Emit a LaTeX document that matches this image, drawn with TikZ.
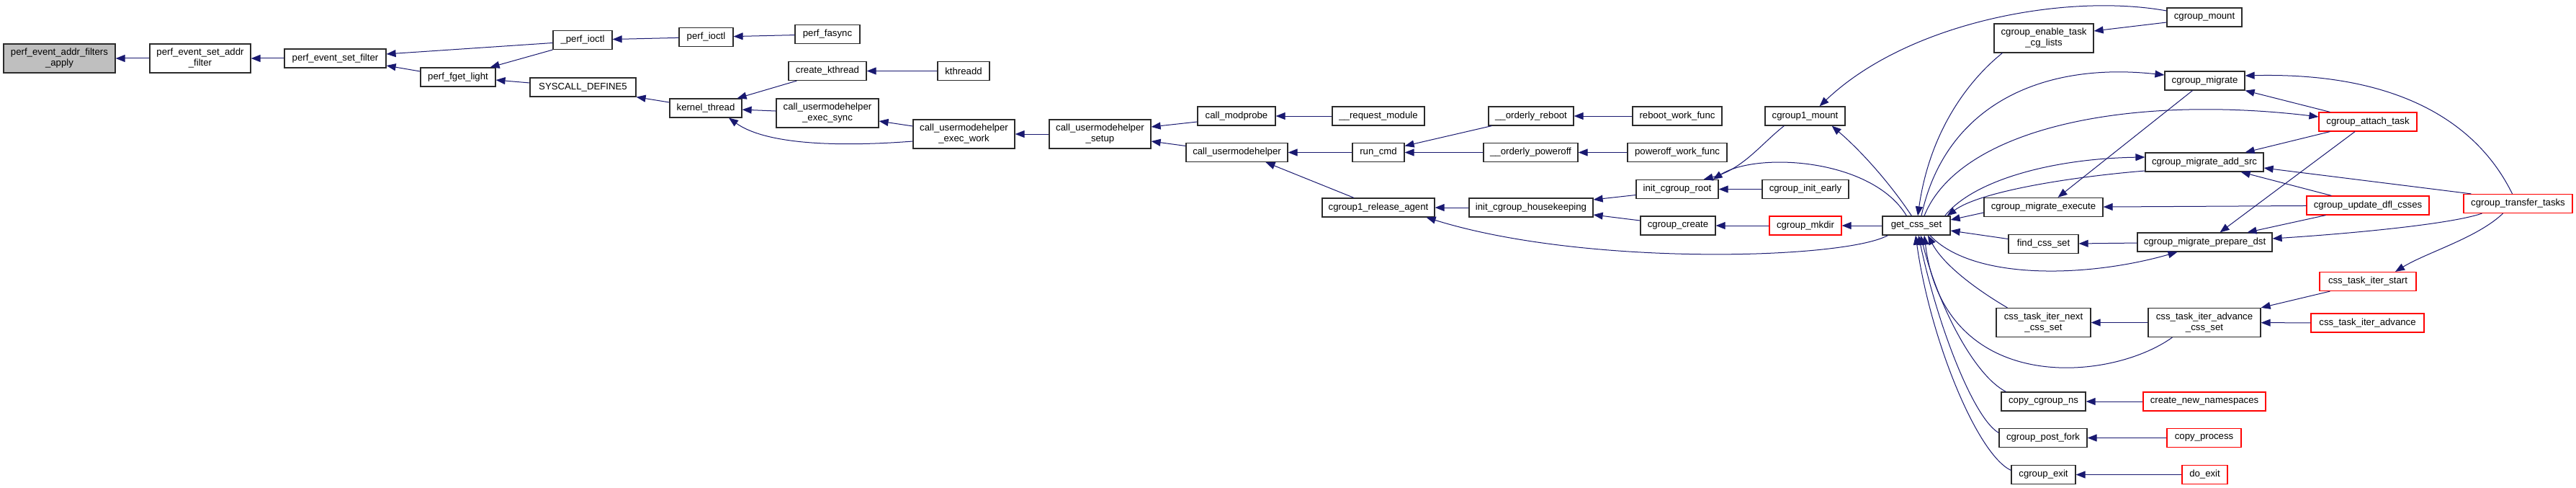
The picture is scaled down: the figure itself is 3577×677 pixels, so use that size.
\documentclass[tikz,border=0pt]{standalone}
\usepackage{fontspec}
\setmainfont{Liberation Sans}
\usetikzlibrary{arrows.meta,calc}
\definecolor{navyc}{HTML}{191970}
\definecolor{grayfill}{HTML}{BFBFBF}
\definecolor{boxline}{HTML}{2B2B2B}
\newcommand\fsz{\fontsize{13.2}{15}\selectfont}
\newcommand\nb[7]{\node[#6, minimum width=#4pt, minimum height=#5pt] (#1) at (#2,#3) {#7};}
\tikzset{
 box/.style={draw=boxline, fill=white, line width=1.2pt, inner sep=0pt, font=\fsz, align=center, text=black},
 rbox/.style={box, draw=red},
 gbox/.style={box, fill=grayfill},
 edge/.style={draw=navyc, line width=1pt, -{Triangle[length=13pt,width=10pt]}}
}
\begin{document}
\begin{tikzpicture}[x=1pt,y=-1pt]
\fill[white] (0,0) rectangle (3577,677);
\useasboundingbox (0,0) rectangle (3577,677);
\nb{apply}{82.5}{81}{155}{40}{gbox}{perf\_event\_addr\_filters\\\_apply}
\nb{setaddr}{278}{81}{140}{40}{box}{perf\_event\_set\_addr\\\_filter}
\nb{setfilter}{465.5}{81}{141}{26}{box}{perf\_event\_set\_filter}
\nb{fget}{636}{107}{104}{26}{box}{perf\_fget\_light}
\nb{pioctlu}{809}{55.5}{82}{26}{box}{\_perf\_ioctl}
\nb{sysdef}{809.5}{121}{147}{26}{box}{SYSCALL\_DEFINE5}
\nb{pioctl}{980.5}{51.5}{75}{26}{box}{perf\_ioctl}
\nb{pfasync}{1149}{47.5}{90}{26}{box}{perf\_fasync}
\nb{ckt}{1149}{98.5}{108}{26}{box}{create\_kthread}
\nb{kthreadd}{1338}{98.5}{72}{26}{box}{kthreadd}
\nb{kt}{980}{150}{100}{26}{box}{kernel\_thread}
\nb{exsync}{1149}{157}{142}{40}{box}{call\_usermodehelper\\\_exec\_sync}
\nb{exwork}{1338.5}{186}{141}{40}{box}{call\_usermodehelper\\\_exec\_work}
\nb{setup}{1527.5}{186}{141}{40}{box}{call\_usermodehelper\\\_setup}
\nb{modprobe}{1717}{161}{108}{26}{box}{call\_modprobe}
\nb{cuh}{1717.5}{211.5}{141}{26}{box}{call\_usermodehelper}
\nb{reqmod}{1914}{161}{128}{26}{box}{\_\_request\_module}
\nb{runcmd}{1914}{211.5}{72}{26}{box}{run\_cmd}
\nb{oreboot}{2126}{161}{118}{26}{box}{\_\_orderly\_reboot}
\nb{opower}{2125.5}{211.5}{131}{26}{box}{\_\_orderly\_poweroff}
\nb{rwf}{2329}{161}{124}{26}{box}{reboot\_work\_func}
\nb{pwf}{2329}{211.5}{138}{26}{box}{poweroff\_work\_func}
\nb{rel}{1914}{288}{156}{26}{box}{cgroup1\_release\_agent}
\nb{ich}{2126}{288}{172}{26}{box}{init\_cgroup\_housekeeping}
\nb{icr}{2329}{262.5}{114}{26}{box}{init\_cgroup\_root}
\nb{ccreate}{2330}{313}{104}{26}{box}{cgroup\_create}
\nb{cimount}{2506.5}{161}{111}{26}{box}{cgroup1\_mount}
\nb{cie}{2507}{262.5}{120}{26}{box}{cgroup\_init\_early}
\nb{cmkdir}{2507}{313}{100}{26}{rbox}{cgroup\_mkdir}
\nb{gcs}{2661}{313}{94}{26}{box}{get\_css\_set}
\nb{cmount}{3061}{24}{104}{26}{box}{cgroup\_mount}
\nb{cetcl}{2838}{53}{138}{40}{box}{cgroup\_enable\_task\\\_cg\_lists}
\nb{cmig}{3061.5}{112}{111}{26}{box}{cgroup\_migrate}
\nb{cat}{3288}{169}{136}{26}{rbox}{cgroup\_attach\_task}
\nb{addsrc}{3061}{225}{164}{26}{box}{cgroup\_migrate\_add\_src}
\nb{cmexec}{2837.5}{287.5}{165}{26}{box}{cgroup\_migrate\_execute}
\nb{cudc}{3288}{285}{170}{26}{rbox}{cgroup\_update\_dfl\_csses}
\nb{ctt}{3496.5}{282.5}{151}{26}{rbox}{cgroup\_transfer\_tasks}
\nb{fcs}{2837.5}{338.5}{97}{26}{box}{find\_css\_set}
\nb{prep}{3061.5}{336}{187}{26}{box}{cgroup\_migrate\_prepare\_dst}
\nb{ctis}{3288}{390.5}{134}{26}{rbox}{css\_task\_iter\_start}
\nb{ctin}{2837.5}{447.5}{131}{40}{box}{css\_task\_iter\_next\\\_css\_set}
\nb{ctiacs}{3061}{447.5}{156}{40}{box}{css\_task\_iter\_advance\\\_css\_set}
\nb{ctia}{3287.5}{448}{157}{26}{rbox}{css\_task\_iter\_advance}
\nb{ccns}{2837.5}{557}{117}{26}{box}{copy\_cgroup\_ns}
\nb{cnn}{3061}{557}{170}{26}{rbox}{create\_new\_namespaces}
\nb{cpf}{2837}{607.5}{122}{26}{box}{cgroup\_post\_fork}
\nb{cproc}{3060.5}{607.5}{103}{26}{rbox}{copy\_process}
\nb{cexit}{2837.5}{658.5}{89}{26}{box}{cgroup\_exit}
\nb{doexit}{3061.5}{658.5}{63}{26}{rbox}{do\_exit}
% edges
\draw[edge] (setaddr) -- (apply);
\draw[edge] (setfilter) -- (setaddr);
\draw[edge] ($(pioctlu.west)+(0,4)$) -- ($(setfilter.east)+(0,-6)$);
\draw[edge] ($(fget.west)+(0,-8)$) -- ($(setfilter.east)+(0,10)$);
\draw[edge] (pioctlu.south west) -- ($(fget.north east)+(-8,0)$);
\draw[edge] ($(sysdef.west)+(0,-6)$) -- ($(fget.east)+(0,4)$);
\draw[edge] (pioctl) -- (pioctlu);
\draw[edge] (pfasync) -- (pioctl);
\draw[edge] ($(kt.west)+(0,-8)$) -- (sysdef.south east);
\draw[edge] ($(ckt.south west)+(12,0)$) -- ($(kt.north east)+(-7,0)$);
\draw[edge] (kthreadd) -- (ckt);
\draw[edge] (exsync) -- (kt);
\draw[edge] ($(exwork.west)+(0,10)$) .. controls (1150,205) and (1060,198) .. ($(kt.south)+(32,0)$);
\draw[edge] ($(exwork.west)+(0,-11)$) -- ($(exsync.east)+(0,11)$);
\draw[edge] (setup) -- (exwork);
\draw[edge] ($(modprobe.west)+(0,8)$) -- ($(setup.east)+(0,-10)$);
\draw[edge] ($(cuh.west)+(0,-9)$) -- ($(setup.east)+(0,10)$);
\draw[edge] (reqmod) -- (modprobe);
\draw[edge] (runcmd) -- (cuh);
\draw[edge] ($(rel.north)+(-34,0)$) -- ($(cuh.south)+(40,0)$);
\draw[edge] ($(oreboot.south west)+(5,0)$) -- ($(runcmd.east)+(0,-9)$);
\draw[edge] (opower) -- (runcmd);
\draw[edge] (rwf) -- (oreboot);
\draw[edge] (pwf) -- (opower);
\draw[edge] (ich) -- (rel);
\draw[edge] ($(gcs.south west)+(8,0)$) .. controls (2560,360) and (2200,370) .. ($(rel.south east)+(-12,0)$);
\draw[edge] ($(icr.west)+(0,8)$) -- ($(ich.east)+(0,-11)$);
\draw[edge] ($(ccreate.west)+(0,-7)$) -- ($(ich.east)+(0,10)$);
\draw[edge] (cie) -- (icr);
\draw[edge] ($(cimount.south west)+(27,0)$) .. controls (2445,200) and (2420,235) .. ($(icr.north east)+(-21,0)$);
\draw[edge] ($(gcs.north west)+(34,0)$) .. controls (2600,220) and (2440,210) .. ($(icr.north east)+(-8,0)$);
\draw[edge] ($(gcs.north west)+(41,0)$) .. controls (2625,255) and (2585,210) .. ($(cimount.south east)+(-19,0)$);
\draw[edge] (cmkdir) -- (ccreate);
\draw[edge] (gcs) -- (cmkdir);
\draw[edge] ($(cmount.west)+(0,-9)$) .. controls (2870,-10) and (2650,30) .. ($(cimount.north)+(20,0)$);
\draw[edge] ($(cmount.west)+(0,7)$) -- ($(cetcl.east)+(0,-10)$);
\draw[edge] ($(cetcl.south west)+(12,0)$) .. controls (2735,110) and (2680,180) .. ($(gcs.north)+(2,0)$);
\draw[edge] ($(gcs.north)+(7,0)$) .. controls (2700,150) and (2830,85) .. ($(cmig.west)+(0,-8)$);
\draw[edge] ($(gcs.north)+(11,0)$) .. controls (2720,180) and (2950,130) .. ($(cat.west)+(0,-7)$);
\draw[edge] ($(gcs.north east)+(-8,0)$) .. controls (2740,250) and (2850,220) .. ($(addsrc.west)+(0,-7)$);
\draw[edge] ($(addsrc.west)+(0,12)$) .. controls (2880,245) and (2750,265) .. ($(gcs.north east)+(-5,0)$);
\draw[edge] ($(cmexec.west)+(0,7.5)$) -- ($(gcs.east)+(0,-8)$);
\draw[edge] ($(fcs.west)+(0,-7)$) -- ($(gcs.east)+(0,7)$);
\draw[edge] ($(cmig.south)+(-17,0)$) -- ($(cmexec.north)+(20,0)$);
\draw[edge] ($(cat.north west)+(16,0)$) -- (cmig.south east);
\draw[edge] ($(cat.south west)+(16,0)$) -- ($(addsrc.north east)+(-26,0)$);
\draw[edge] ($(cat.south)+(-18,0)$) -- ($(prep.north)+(21,0)$);
\draw[edge] ($(cudc.north west)+(35,0)$) -- ($(addsrc.south east)+(-32,0)$);
\draw[edge] (cudc) -- (cmexec);
\draw[edge] ($(cudc.south west)+(27,0)$) -- ($(prep.north east)+(-35,0)$);
\draw[edge] ($(ctt.north west)+(11,0)$) -- ($(addsrc.east)+(0,8)$);
\draw[edge] ($(ctt.north)+(-8,0)$) .. controls (3440,170) and (3330,100) .. ($(cmig.east)+(0,-7)$);
\draw[edge] ($(ctt.south west)+(26,0)$) .. controls (3400,312) and (3250,325) .. ($(prep.east)+(0,-5)$);
\draw[edge] ($(ctt.south)+(-21,0)$) .. controls (3440,330) and (3370,350) .. ($(ctis.north)+(38,0)$);
\draw[edge] (prep) -- (fcs);
\draw[edge] ($(gcs.south)+(19,0)$) .. controls (2740,390) and (2900,385) .. ($(prep.south)+(-38,0)$);
\draw[edge] ($(ctin.north west)+(16,0)$) .. controls (2750,405) and (2700,370) .. ($(gcs.south)+(16,0)$);
\draw[edge] ($(ctiacs.south west)+(34,0)$) .. controls (2930,530) and (2700,550) .. ($(gcs.south)+(11,0)$);
\draw[edge] ($(ccns.north west)+(7,0)$) .. controls (2740,520) and (2690,420) .. ($(gcs.south)+(6,0)$);
\draw[edge] ($(cpf.west)+(0,-7)$) .. controls (2740,580) and (2690,450) .. ($(gcs.south)+(3,0)$);
\draw[edge] ($(cexit.west)+(0,-6)$) .. controls (2745,630) and (2680,470) .. ($(gcs.south)+(-1,0)$);
\draw[edge] (ctiacs) -- (ctin);
\draw[edge] ($(ctis.south west)+(15,0)$) -- (ctiacs.north east);
\draw[edge] (ctia) -- (ctiacs);
\draw[edge] (cnn) -- (ccns);
\draw[edge] (cproc) -- (cpf);
\draw[edge] (doexit) -- (cexit);
\end{tikzpicture}
\end{document}
